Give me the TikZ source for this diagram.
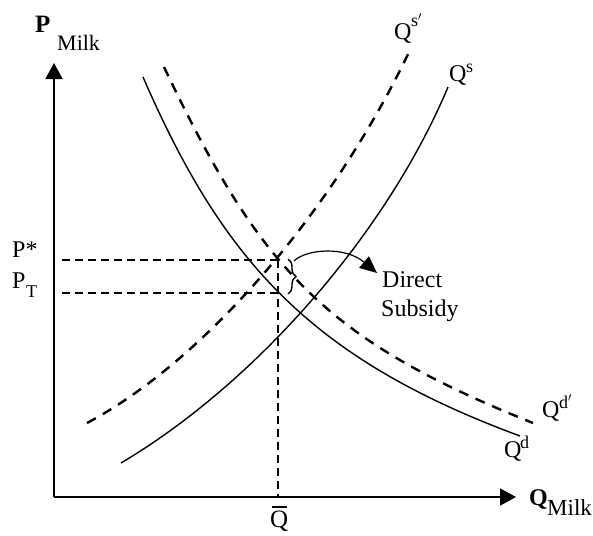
\documentclass[tikz,border=0pt]{standalone}
\usepackage{fontspec}
\setmainfont{Liberation Serif}
\usetikzlibrary{arrows.meta,decorations.pathreplacing}
\begin{document}
\begin{tikzpicture}[x=1pt,y=-1pt,
  axisline/.style={line width=1.6pt,-{Triangle[width=17pt,length=16pt]}},
  curvesolid/.style={line width=1.4pt},
  curvedash/.style={line width=2.4pt,dash pattern=on 10pt off 8pt},
  guide/.style={line width=1.6pt,dash pattern=on 8pt off 5pt},
  lbl/.style={inner sep=0pt,anchor=base west,font=\fontsize{24}{28}\selectfont},
  qlbl/.style={inner sep=0pt,anchor=base west,font=\fontsize{24}{28}\selectfont},
  sub/.style={inner sep=0pt,anchor=base west,font=\fontsize{18}{20}\selectfont},
  bigl/.style={inner sep=0pt,anchor=base west,font=\fontsize{25}{30}\selectfont\bfseries}]
\useasboundingbox (0,0) rectangle (593,535);
% axes
\coordinate (O) at (54,497);
\coordinate (ytip) at (54,63);
\coordinate (xtip) at (516,497);
\draw[axisline] (O) -- (ytip);
\draw[axisline] (O) -- (xtip);
% axis labels
\node[bigl] (pl) at (35,33) {P};
\node[lbl,font=\fontsize{22}{24}\selectfont] (plm) at (57,50) {Milk};
\node[bigl,font=\fontsize{24}{28}\selectfont\bfseries] (ql) at (529,505) {Q};
\node[lbl,font=\fontsize{23}{24}\selectfont] (qlm) at (547,515) {Milk};
% curves
\coordinate (qdA) at (143,77);   \coordinate (qdB) at (520,436);
\coordinate (qdpA) at (164,67);  \coordinate (qdpB) at (533,423);
\coordinate (qsA) at (121,463);  \coordinate (qsB) at (448,87);
\coordinate (qspA) at (87,423);  \coordinate (qspB) at (410,50);
\draw[curvesolid] (qdA) .. controls (222.7,260.3) and (309.4,358.2) .. (qdB);
\draw[curvedash] (qdpA) .. controls (259.6,267.7) and (322.7,338.9) .. (qdpB);
\draw[curvesolid] (qsA) .. controls (255.8,383.1) and (386.7,233.2) .. (qsB);
\draw[curvedash] (qspA) .. controls (203.7,361.1) and (332.9,212) .. (qspB);
% curve labels
\node[qlbl] (qs) at (449,81) {Q};
\node[sub] (qss) at (466,72) {s};
\node[qlbl] (qsp) at (394,40) {Q};
\node[sub] (qsps) at (411,27) {s$'$};
\node[qlbl] (qd) at (504,457) {Q};
\node[sub] (qds) at (520,448) {d};
\node[qlbl] (qdp) at (542,417) {Q};
\node[sub] (qdps) at (559,408) {d$'$};
% guide lines
\coordinate (pstar) at (280,260);
\coordinate (pt) at (280,293);
\coordinate (pstarL) at (62,260);
\coordinate (ptL) at (62,293);
\coordinate (qbarT) at (278,260);
\coordinate (qbarB) at (278,497);
\draw[guide] (pstarL) -- (pstar);
\draw[guide] (ptL) -- (pt);
\draw[guide] (qbarT) -- (qbarB);
\node[lbl] (ps) at (12,257) {P*};
\node[lbl] (ptl) at (12,288) {P};
\node[sub] (ptt) at (26,297) {T};
\node[qlbl,font=\fontsize{25}{28}\selectfont] (qbar) at (270,527) {Q};
\draw[line width=1.2pt] (272,507) -- (287,507);
% brace and arrow
\draw[line width=1.4pt,decorate,decoration={brace,amplitude=8pt}] (288,259) -- (288,294);
\node[lbl] (ds1) at (382,287) {Direct};
\node[lbl] (ds2) at (381,316) {Subsidy};
\coordinate (arrs) at (294,261);
\coordinate (arre) at (377,273);
\draw[line width=1.2pt,-{Triangle[width=15pt,length=17pt]}] (arrs) .. controls (306,249) and (345,246) .. (arre);
\end{tikzpicture}
\end{document}
